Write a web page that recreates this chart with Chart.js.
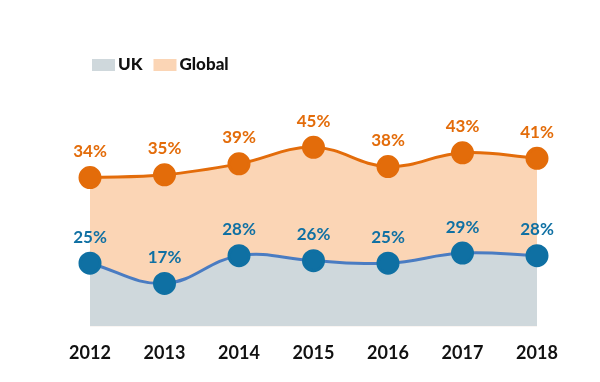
<!DOCTYPE html>
<html>
<head>
<meta charset="utf-8">
<script src="https://cdn.jsdelivr.net/npm/chart.js@4.4.0/dist/chart.umd.min.js"></script>
<style>
  html, body { margin: 0; padding: 0; background: #fff; }
  #wrap { width: 600px; height: 382px; }
</style>
</head>
<body>
<div id="wrap"><canvas id="chart" width="600" height="382"></canvas></div>
<script>
// ===== DATA =====
const years = ["2012", "2013", "2014", "2015", "2016", "2017", "2018"];
const ukValues = [25, 17, 28, 26, 25, 29, 28];
const globalValues = [34, 35, 39, 45, 38, 43, 41];

const orange = "#e36c0a";
const blue = "#0f70a3";
const blueLine = "#4a7cc2";
const orangeFill = "#fbd5b5";
const greyFill = "#cfd8dc";

// ===== LABEL PLUGIN =====
const valueLabels = {
    id: "valueLabels",
    afterDatasetsDraw(chart) {
        const ctx = chart.ctx;
        ctx.save();
        ctx.font = "bold 17px Lato";
        ctx.textAlign = "center";
        ctx.textBaseline = "middle";
        chart.data.datasets.forEach((ds, i) => {
            const meta = chart.getDatasetMeta(i);
            ctx.fillStyle = ds.pointBackgroundColor;
            meta.data.forEach((pt, j) => {
                ctx.fillText(ds.data[j] + "%", pt.x, pt.y - 26);
            });
        });
        ctx.restore();
    }
};

// ===== SIMPLE LEGEND =====
const topLegend = {
    id: "topLegend",
    afterDraw(chart) {
        const ctx = chart.ctx;
        ctx.save();
        ctx.font = "900 17px Lato";
        ctx.textBaseline = "middle";
        let x = 92;
        const y = 65;
        chart.data.datasets.forEach(ds => {
            ctx.fillStyle = ds.backgroundColor;
            ctx.fillRect(x, y - 6, 23, 12);
            ctx.fillStyle = "#111";
            ctx.fillText(ds.label, x + 26, y);
            x += 26 + ctx.measureText(ds.label).width + 11;
        });
        ctx.restore();
    }
};

// ===== CHART =====
const chart = new Chart(document.getElementById("chart"), {
    type: "line",
    data: {
        labels: years,
        datasets: [{
            label: "UK",
            data: ukValues,
            yAxisID: "y",
            borderColor: blueLine,
            backgroundColor: greyFill,
            pointBackgroundColor: blue,
            pointBorderColor: blue,
            pointRadius: 10,
            borderWidth: 3,
            tension: 0.4,
            fill: "start",
            clip: false
        }, {
            label: "Global",
            data: globalValues,
            yAxisID: "y2",
            borderColor: orange,
            backgroundColor: orangeFill,
            pointBackgroundColor: orange,
            pointBorderColor: orange,
            pointRadius: 10,
            borderWidth: 3,
            tension: 0.4,
            fill: "start",
            clip: false
        }]
    },
    options: {
        responsive: false,
        animation: false,
        layout: { padding: { left: 90, right: 63, top: 104, bottom: 10 } },
        plugins: {
            tooltip: { enabled: false },
            legend: { display: false }
        },
        scales: {
            x: {
                offset: false,
                grid: { display: false },
                border: { display: false },
                ticks: {
                    color: "#111",
                    padding: 8,
                    font: { family: "Lato", weight: "bold", size: 18 }
                }
            },
            y: { display: false, min: 0, max: 88 },
            y2: { display: false, min: -20, max: 60.7 }
        }
    },
    plugins: [valueLabels, topLegend]
});
</script>
</body>
</html>
